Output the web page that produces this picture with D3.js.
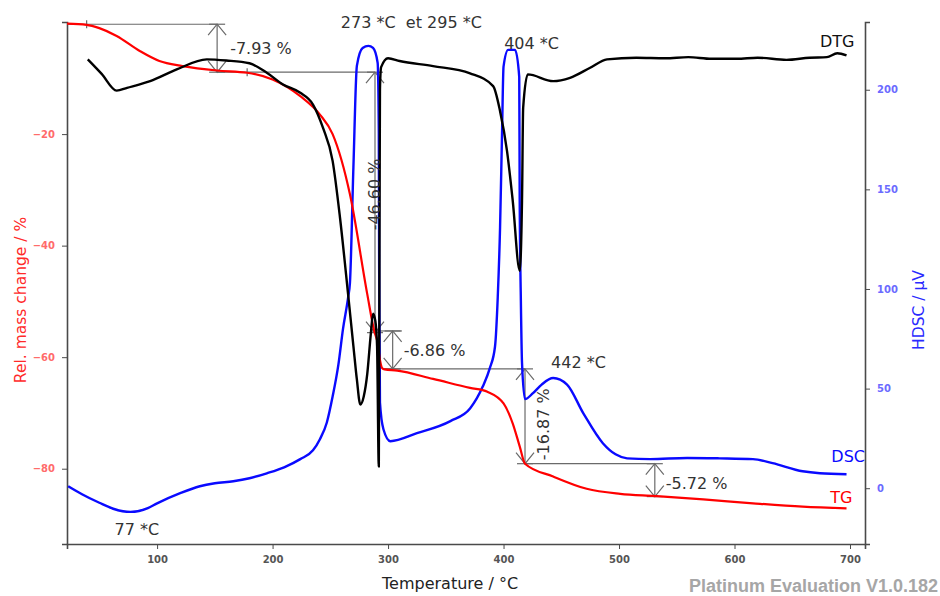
<!DOCTYPE html>
<html>
<head>
<meta charset="utf-8">
<script src="https://cdn.jsdelivr.net/npm/d3@7/dist/d3.min.js"></script>
<style>
  html, body { margin: 0; padding: 0; background: #fff; }
  svg { display: block; font-family: "DejaVu Sans", Verdana, sans-serif; }
</style>
</head>
<body>
<svg id="chart" width="940" height="596"></svg>
<script>
// ---------------- DATA ----------------
// TG: relative mass change (%) vs temperature (°C)
const tgTemp = [22, 39, 50, 65, 85, 102, 122, 152, 178, 200, 224, 241, 252, 267, 282, 288, 291, 293, 295, 297, 308, 339, 371, 386, 400, 408, 414, 418.6, 443, 472, 501, 531, 573, 616, 659, 697];
const tgVal  = [-0.2, -0.4, -1.0, -2.4, -5.1, -6.9, -7.8, -8.6, -9.0, -10.2, -13.2, -16.5, -20, -30.8, -48.7, -55.3, -57.5, -60.5, -62.0, -62.2, -62.4, -63.9, -65.5, -66.2, -68.3, -71.9, -76, -79.1, -81.4, -83.6, -84.5, -84.9, -85.5, -86.2, -86.8, -87.1];

// DTG (expressed in left-axis units, no own axis shown)
const dtgTemp = [40, 52, 65, 74, 94, 117, 143, 160, 180, 195, 209, 224, 235, 243.7, 252, 258.4, 265.4, 270, 273, 276, 279, 282, 285, 287, 289, 290.5, 292, 292.6, 293, 294, 300, 310, 339, 371, 391, 397, 403, 408, 414, 416, 417, 421, 443, 457.6, 475, 489.6, 515, 540, 560, 580, 602, 620, 645, 665, 680, 689, 697];
const dtgVal  = [-6.6, -9.2, -12.2, -11.7, -10.5, -8.4, -6.6, -6.8, -7.3, -9.0, -11.1, -12.6, -14.7, -18.9, -24.8, -35, -48.7, -58, -64, -68.5, -67, -63, -56, -52.2, -53.5, -58, -79.6, -40, -12, -8, -6.4, -6.9, -7.8, -9.1, -11.4, -15.9, -23, -32, -44.5, -32, -15.3, -9.3, -10.5, -9.9, -8.1, -6.6, -6.3, -6.4, -6.2, -6.5, -6.5, -6.3, -6.7, -6.3, -6.2, -5.5, -5.9];

// DSC: heat flow (µV) vs temperature (°C)
const dscTemp = [23, 35, 50, 62, 77, 92, 100, 120, 137, 150, 166, 180, 195, 210, 224, 235, 241, 247, 252, 257, 261, 265.5, 267, 270, 273, 278, 283, 287, 291, 292, 292.3, 293, 296, 302, 325, 354, 371, 382, 388, 392.6, 395, 397, 398.7, 400, 404, 410, 413.6, 414, 415, 416, 418.6, 425.5, 433, 443, 455, 469, 486, 497, 507, 527, 559, 587, 616, 633, 659, 674, 697];
const dscVal  = [1, -3, -7.3, -10.3, -11.9, -10.0, -7.6, -2.5, 1, 2.5, 3.5, 5, 7.5, 10.5, 14.6, 19, 24.6, 33, 46, 62, 80, 96, 103, 161, 212, 221, 222, 221, 213.5, 178, 111, 43, 29.6, 23.6, 27.6, 33.7, 40, 51, 60, 71, 96, 131, 178, 211.6, 220, 220, 206.5, 145, 94.5, 63, 44.7, 47.7, 52, 55.3, 52, 37.7, 22.6, 17, 15, 14.6, 15.2, 15, 14.6, 12.6, 8.5, 7.5, 7];

// Axis ticks
const xTicks = [100, 200, 300, 400, 500, 600, 700];
const yLeftTicks = [-80, -60, -40, -20];
const yRightTicks = [0, 50, 100, 150, 200];

// Step measurements: temperature, top value, bottom value (%), label
const stepTemp  = [152, 288.7, 304, 418.6, 531];
const stepTop   = [-0.3, -8.9, -55.3, -62.1, -79.1];
const stepBot   = [-8.9, -55.6, -62.1, -79.1, -85.0];
const stepLabel = ["-7.93 %", "-46.60 %", "-6.86 %", "-16.87 %", "-5.72 %"];

// Peak labels
const peakLabels = ["273 *C  et 295 *C", "404 *C", "442 *C", "77 *C"];

// ---------------- CHART ----------------
const svg = d3.select("#chart");
const L = 67, R = 865, T = 22, B = 544;

const x = d3.scaleLinear().domain([22, 713]).range([L, R]);
const yL = d3.scaleLinear().domain([-93.5, 0.1]).range([B, T]);
const yR = d3.scaleLinear().domain([-28, 234]).range([B, T]);

const axisCol = "#4a4a4a";

// axes
const gx = svg.append("g").attr("transform", `translate(0,${B})`);
gx.call(d3.axisBottom(x).tickValues(d3.range(40, 713, 20)).tickSize(3).tickFormat(""));
gx.call(d3.axisBottom(x).tickValues(xTicks).tickSize(5).tickFormat(d3.format("d")));
gx.selectAll("path.domain").attr("stroke", axisCol).attr("stroke-width", 1.6);
gx.selectAll("line").attr("stroke", axisCol);
gx.selectAll("text").attr("fill", "#555").attr("font-size", "10px").attr("font-weight", "bold")
  .attr("font-family", "DejaVu Sans").attr("dy", "1.1em");

const gl = svg.append("g").attr("transform", `translate(${L},0)`);
gl.call(d3.axisLeft(yL).tickValues(d3.range(-92, 0, 4)).tickSize(3).tickFormat(""));
gl.call(d3.axisLeft(yL).tickValues(yLeftTicks).tickSize(5).tickFormat(d3.format("d")));
gl.selectAll("path.domain").attr("stroke", axisCol).attr("stroke-width", 1.6);
gl.selectAll("line").attr("stroke", axisCol);
gl.selectAll("text").attr("fill", "#ff6b6b").attr("font-size", "10px").attr("font-weight", "bold")
  .attr("font-family", "DejaVu Sans").attr("dx", "-0.4em");

const gr = svg.append("g").attr("transform", `translate(${R},0)`);
gr.call(d3.axisRight(yR).tickValues(d3.range(-20, 234, 10)).tickSize(3).tickFormat(""));
gr.call(d3.axisRight(yR).tickValues(yRightTicks).tickSize(5).tickFormat(d3.format("d")));
gr.selectAll("path.domain").attr("stroke", axisCol).attr("stroke-width", 1.6);
gr.selectAll("line").attr("stroke", axisCol);
gr.selectAll("text").attr("fill", "#6b6bff").attr("font-size", "10px").attr("font-weight", "bold")
  .attr("font-family", "DejaVu Sans").attr("dx", "0.4em");

// axis titles
svg.append("text").text("Rel. mass change / %")
  .attr("transform", `translate(${L - 41},${(T + B) / 2 + 17}) rotate(-90)`)
  .attr("text-anchor", "middle").attr("font-size", "15.5px").attr("fill", "#ff2a2a");
svg.append("text").text("HDSC / µV")
  .attr("transform", `translate(${R + 59},${(T + B) / 2 + 27}) rotate(-90)`)
  .attr("text-anchor", "middle").attr("font-size", "15.5px").attr("fill", "#2a2aff");
svg.append("text").text("Temperature / °C")
  .attr("x", x(300) - 6).attr("y", B + 45)
  .attr("font-size", "16px").attr("fill", "#222");
svg.append("text").text("Platinum Evaluation V1.0.182")
  .attr("x", 938).attr("y", 592)
  .attr("text-anchor", "end").attr("font-size", "18px").attr("font-weight", "bold")
  .attr("font-family", "Liberation Sans, Arial, sans-serif").attr("fill", "#a6a6a6");

// annotation (step) lines
const ann = svg.append("g").attr("stroke", "#6a6a6a").attr("stroke-width", 1.2).attr("fill", "none");
function hline(t1, t2, v) { ann.append("line").attr("x1", x(t1)).attr("x2", x(t2)).attr("y1", yL(v)).attr("y2", yL(v)); }
function plus(t, v) {
  ann.append("line").attr("x1", x(t)).attr("x2", x(t)).attr("y1", yL(v) - 4).attr("y2", yL(v) + 4);
}
// reference horizontals
hline(22.5, stepTemp[0], stepTop[0]); plus(39, stepTop[0]);
hline(stepTemp[0], stepTemp[1], stepTop[1]); plus(178, stepTop[1]);
hline(286, 312, stepTop[2]);
hline(296, stepTemp[3], stepTop[3]);
hline(stepTemp[3], stepTemp[4], stepTop[4]);

stepTemp.forEach((t, i) => {
  const xp = x(t), y1 = yL(stepTop[i]), y2 = yL(stepBot[i]);
  ann.append("line").attr("x1", xp).attr("x2", xp).attr("y1", y1).attr("y2", y2);
  ann.append("path").attr("d", `M${xp - 9},${y1 + 11}L${xp},${y1}L${xp + 9},${y1 + 11}`);
  ann.append("path").attr("d", `M${xp - 9},${y2 - 11}L${xp},${y2}L${xp + 9},${y2 - 11}`);
  ann.append("line").attr("x1", xp - 8).attr("x2", xp + 8).attr("y1", y1).attr("y2", y1);
  ann.append("line").attr("x1", xp - 8).attr("x2", xp + 8).attr("y1", y2).attr("y2", y2);
});

// curves
const curve = d3.curveMonotoneX;
const tgLine = d3.line().x(i => x(tgTemp[i])).y(i => yL(tgVal[i])).curve(curve);
const dscLine = d3.line().x(i => x(dscTemp[i])).y(i => yR(dscVal[i])).curve(curve);
const dtgLine = d3.line().x(i => x(dtgTemp[i])).y(i => yL(dtgVal[i])).curve(curve);

svg.append("path").attr("d", dscLine(d3.range(dscTemp.length)))
  .attr("fill", "none").attr("stroke", "#0a0aff").attr("stroke-width", 2.4).attr("stroke-linejoin", "round");
svg.append("path").attr("d", tgLine(d3.range(tgTemp.length)))
  .attr("fill", "none").attr("stroke", "#ff0000").attr("stroke-width", 2.2).attr("stroke-linejoin", "round");
svg.append("path").attr("d", dtgLine(d3.range(dtgTemp.length)))
  .attr("fill", "none").attr("stroke", "#000").attr("stroke-width", 2.4).attr("stroke-linejoin", "round");

// step labels
const lab = svg.append("g").attr("font-size", "16px").attr("fill", "#333");
const mid = i => (yL(stepTop[i]) + yL(stepBot[i])) / 2;
lab.append("text").text(stepLabel[0]).attr("x", x(stepTemp[0]) + 13).attr("y", yL(stepTop[0]) + 30);
lab.append("text").text(stepLabel[1]).attr("text-anchor", "middle")
  .attr("transform", `translate(${x(stepTemp[1]) + 5},${mid(1) - 8}) rotate(-90)`);
lab.append("text").text(stepLabel[2]).attr("x", x(stepTemp[2]) + 11).attr("y", mid(2) + 6);
lab.append("text").text(stepLabel[3]).attr("text-anchor", "middle")
  .attr("transform", `translate(${x(stepTemp[3]) + 24},${mid(3) + 8}) rotate(-90)`);
lab.append("text").text(stepLabel[4]).attr("x", x(stepTemp[4]) + 11).attr("y", mid(4) + 9);

// peak labels
lab.append("text").text(peakLabels[0]).attr("x", x(273) - 16).attr("y", yR(234) + 6).attr("xml:space", "preserve").style("white-space", "pre");
lab.append("text").text(peakLabels[1]).attr("x", x(404) - 4).attr("y", yR(220) - 1);
lab.append("text").text(peakLabels[2]).attr("x", x(442) - 1).attr("y", yR(55.3) - 10);
lab.append("text").text(peakLabels[3]).attr("x", x(77) - 16).attr("y", yR(-11.9) + 23);

// curve names
svg.append("text").text("DTG").attr("x", x(697) + 8).attr("y", yL(-5.9) - 8).attr("text-anchor", "end")
  .attr("font-size", "16px").attr("fill", "#111");
svg.append("text").text("DSC").attr("x", R).attr("y", yR(7) - 12).attr("text-anchor", "end")
  .attr("font-size", "16px").attr("fill", "#0a0aff");
svg.append("text").text("TG").attr("x", x(697) + 6).attr("y", yL(-87.1) - 5).attr("text-anchor", "end")
  .attr("font-size", "16px").attr("fill", "#ff0000");
</script>
</body>
</html>
